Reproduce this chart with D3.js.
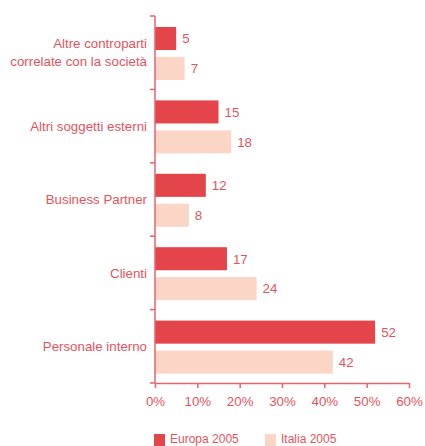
<!DOCTYPE html>
<html><head><meta charset="utf-8">
<script src="https://cdn.jsdelivr.net/npm/d3@7"></script>
<style>body{margin:0;background:#fff}text{font-family:"Liberation Sans",Arial,sans-serif}</style>
</head><body><svg id="c" width="425" height="446"></svg>
<script>
const categories = [["Altre controparti","correlate con la società"],["Altri soggetti esterni"],["Business Partner"],["Clienti"],["Personale interno"]];
const europa = [5, 15, 12, 17, 52];
const italia = [7, 18, 8, 24, 42];
const seriesNames = ["Europa 2005", "Italia 2005"];
const xTicks = [0, 10, 20, 30, 40, 50, 60];

const red = "#e3454a", pink = "#fbd6c6", txt = "#e5545c", axisC = "#e8636a";
const fs = 13.3;
const svg = d3.select("#c");
const x = d3.scaleLinear().domain([0, 60]).range([155, 409]);
const y = d3.scaleBand().domain(d3.range(categories.length)).range([16, 383]);
const inner = d3.scaleBand().domain([0, 1]).range([11, 64]).paddingInner(0.23);

const g = svg.append("g");
categories.forEach((c, i) => {
  const vals = [europa[i], italia[i]];
  vals.forEach((v, j) => {
    const yy = y(i) + inner(j);
    g.append("rect").attr("x", x(0)).attr("y", yy).attr("width", x(v) - x(0)).attr("height", inner.bandwidth()).attr("fill", j === 0 ? red : pink);
    g.append("text").attr("x", x(v) + 6).attr("y", yy + inner.bandwidth() / 2).attr("dy", "0.36em").attr("fill", txt).attr("font-size", fs).text(v);
  });
  const t = g.append("text").attr("x", 147).attr("fill", txt).attr("font-size", fs).attr("text-anchor", "end");
  const cy = y(i) + y.bandwidth() / 2;
  c.forEach((line, k) => {
    t.append("tspan").attr("x", 147).attr("y", cy + (k - (c.length - 1) / 2) * 18).attr("dy", "0.36em").text(line);
  });
});

// y axis
const yAxisG = svg.append("g");
yAxisG.append("line").attr("x1", 155).attr("x2", 155).attr("y1", 16).attr("y2", 383).attr("stroke", axisC).attr("stroke-width", 1.5);
d3.range(categories.length + 1).forEach(i => {
  const yy = i < categories.length ? y(i) : 383;
  yAxisG.append("line").attr("x1", 150).attr("x2", 155).attr("y1", yy).attr("y2", yy).attr("stroke", axisC).attr("stroke-width", 1.5);
});

// x axis
const xa = svg.append("g").attr("transform", "translate(0,383)")
  .call(d3.axisBottom(x).tickValues(xTicks).tickSize(5).tickSizeOuter(0).tickFormat(d => d + "%"));
xa.select(".domain").attr("stroke", axisC).attr("stroke-width", 1.5);
xa.selectAll(".tick line").attr("stroke", axisC).attr("stroke-width", 1.5);
xa.selectAll(".tick text").attr("fill", txt).attr("font-size", fs).attr("font-family", '"Liberation Sans",Arial,sans-serif').attr("y", 14);

// legend
const lx = [154, 265];
seriesNames.forEach((n, j) => {
  svg.append("rect").attr("x", lx[j]).attr("y", 434).attr("width", 11).attr("height", 12).attr("fill", j === 0 ? red : pink);
  svg.append("text").attr("x", lx[j] + 16).attr("y", 443).attr("fill", txt).attr("font-size", 12).text(n);
});
</script></body></html>
